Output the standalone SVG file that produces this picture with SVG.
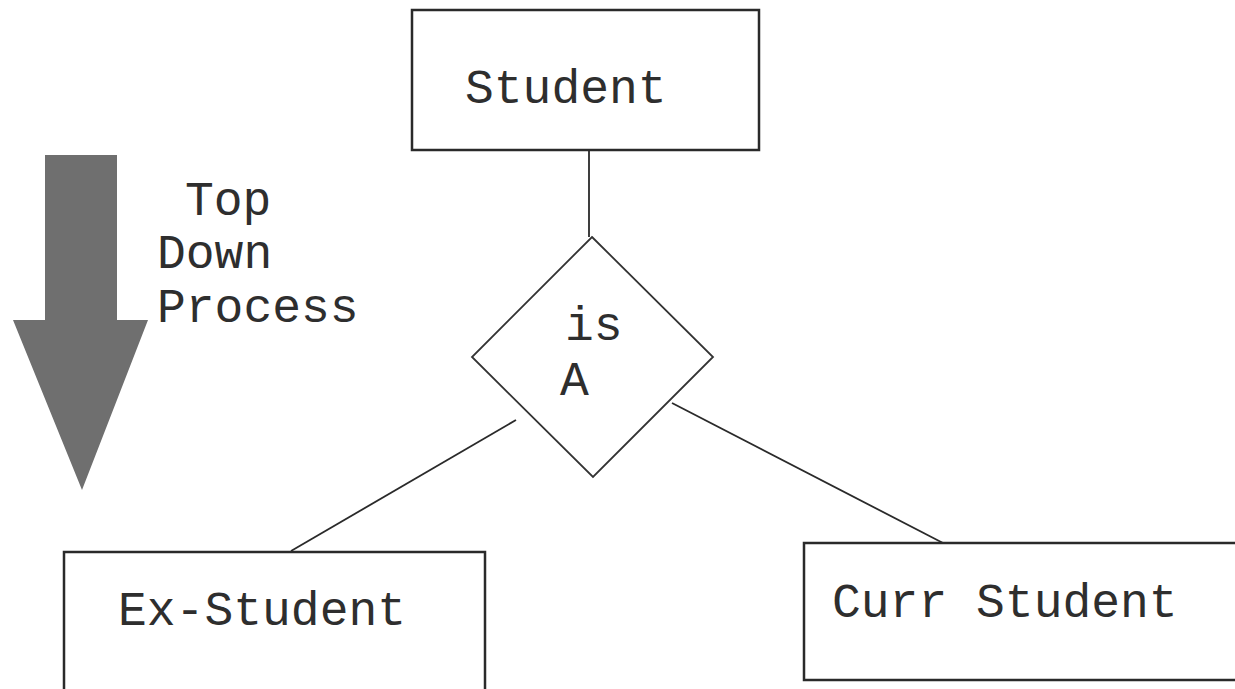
<svg xmlns="http://www.w3.org/2000/svg" width="1235" height="689" viewBox="0 0 1235 689">
<style>
.box{fill:#fff;stroke:#2a2a2a;stroke-width:2.5}
.dia{fill:#fff;stroke:#333;stroke-width:1.8}
.ln{stroke:#2a2a2a;stroke-width:1.8;fill:none}
.t{font-family:"Liberation Mono","Courier New",monospace;font-size:48px;fill:#2e2e2e}
</style>
<rect width="1235" height="689" fill="#fff"/>
<g id="arrow">
<polygon points="45,155 117,155 117,320 148,320 82,490 13,320 45,320" fill="#6f6f6f"/>
<text class="t" x="185" y="215">Top</text>
<text class="t" x="157" y="268">Down</text>
<text class="t" x="157" y="322">Process</text>
</g>
<g id="connectors">
<line class="ln" x1="589" y1="150" x2="589" y2="237"/>
<line class="ln" x1="516" y1="420" x2="291" y2="551"/>
<line class="ln" x1="672" y1="403" x2="943" y2="543"/>
</g>
<g id="student">
<rect class="box" x="412" y="10" width="347" height="140"/>
<text class="t" x="465" y="103">Student</text>
</g>
<g id="isa">
<polygon class="dia" points="592,237 713,357 593,477 472,357"/>
<text class="t" x="565" y="340">is</text>
<text class="t" x="560" y="395">A</text>
</g>
<g id="ex-student">
<rect class="box" x="64" y="552" width="421" height="150"/>
<text class="t" x="118" y="625">Ex-Student</text>
</g>
<g id="curr-student">
<rect class="box" x="804" y="543" width="440" height="137"/>
<text class="t" x="832" y="617">Curr Student</text>
</g>
</svg>
